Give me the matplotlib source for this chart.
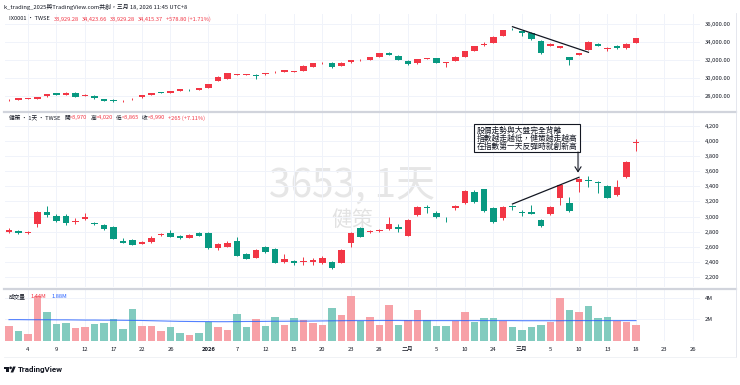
import matplotlib
matplotlib.use('Agg')
import matplotlib.pyplot as plt
from matplotlib.patches import Rectangle, Polygon, Circle
import numpy as np

W, H = 740, 385
plt.rcParams['font.family'] = ['Noto Sans CJK TC', 'DejaVu Sans']

# ---------------- data ----------------
days = ['12-02','12-03','12-04','12-05','12-08','12-09','12-10','12-11','12-12','12-15',
        '12-16','12-17','12-18','12-19','12-22','12-23','12-24','12-26','12-29','12-30','12-31',
        '01-02','01-05','01-06','01-07','01-08','01-09','01-12','01-13','01-14','01-15',
        '01-16','01-19','01-20','01-21','01-22','01-23','01-26','01-27','01-28','01-29','01-30',
        '02-02','02-03','02-04','02-05','02-06','02-09','02-10','02-11','02-23','02-24','02-25','02-26',
        '03-02','03-03','03-04','03-05','03-06','03-09','03-10','03-11','03-12','03-13','03-16','03-17','03-18']
future_days = ['03-19','03-20','03-23','03-24','03-25','03-26','03-27']

tick_days = ['12-04','12-09','12-12','12-17','12-22','12-26','01-02','01-07','01-12','01-15','01-20',
             '01-23','01-28','02-02','02-05','02-10','02-24','03-02','03-05','03-10','03-13','03-18',
             '03-23','03-26']
tick_labels = ['4','9','12','17','22','26','2026','7','12','15','20','23','28','二月','5','10','24',
               '三月','5','10','13','18','23','26']

idx_name = 'IX0001 · TWSE'
idx_open = [27580,27600,27780,27745,28010,28340,28190,28400,28050,28070,
            27700,27650,27480,27700,27900,28190,28420,28410,28600,28720,
            28700,28960,29740,29900,30430,30400,30360,30440,30680,30700,
            30700,30810,31280,31650,31720,31360,31770,32000,32020,32390,
            32790,32500,31940,31660,32130,32200,31720,31950,32390,33050,
            33650,33940,34710,35460,35220,35040,34150,33570,33390,32320,
            32610,33130,33790,33210,33560,33320,33929.28]
idx_high = [27680,27830,27850,27960,28290,28400,28440,28450,28260,28120,
            27740,27700,27560,27780,28180,28380,28480,28630,28850,28800,
            28960,29370,30200,30600,30520,30470,30420,30590,30780,30950,
            30850,31420,31700,31800,31760,31760,32030,32080,32350,32800,
            32900,32550,31980,32160,32250,32240,31780,32420,33050,33610,
            34040,34640,35380,35600,35280,35100,34190,33920,33620,32360,
            32800,34080,33950,33420,33700,33950,34423.66]
idx_low = [27520,27560,27720,27700,27980,28120,28150,27940,28000,27720,
           27450,27420,27420,27650,27860,28150,28330,28380,28570,28640,
           28670,28930,29700,29870,30380,30340,29920,30410,30620,30670,
           30660,30780,31250,31560,31180,31330,31740,31960,31990,32360,
           32550,31990,31520,31620,32090,31690,31280,31920,32360,33020,
           33610,33910,34680,35380,34670,34280,32730,33540,33350,31470,
           32580,33100,33540,33000,33290,33290,33929.28]
idx_close = [27610,27790,27800,27930,28265,28160,28410,27970,28200,27800,
             27500,27460,27500,27720,28150,28340,28400,28600,28810,28700,
             28930,29340,30110,30550,30450,30410,30260,30550,30700,30910,
             30800,31390,31650,31700,31220,31720,31990,32030,32320,32760,
             32580,32020,31580,32130,32210,31730,31730,32390,33010,33570,
             33790,34600,35330,35440,35040,34310,32760,33760,33560,32020,
             32760,34040,33570,33380,33320,33836.57,34415.37]

stk_name = '健策 · 1天 · TWSE'
stk_open = [2798,2811,2785,2900,3058,3009,3009,2930,2969,2921,
            2890,2860,2683,2692,2644,2666,2755,2789,2749,2723,
            2781,2789,2583,2604,2683,2508,2459,2596,2570,2398,
            2415,2400,2398,2385,2406,2393,2657,2847,2798,2815,
            2837,2860,2749,3022,3128,3053,2985,3119,3184,3329,
            3361,3118,2987,3135,3055,3058,2956,3035,3250,3176,
            3453,3478,3457,3405,3286,3519,3970]
stk_high = [2845,2830,2815,3070,3141,3030,3030,2978,3051,2935,
            2905,2870,2720,2705,2680,2745,2790,2830,2760,2770,
            2795,2800,2650,2680,2730,2520,2570,2610,2580,2504,
            2425,2470,2450,2475,2420,2575,2800,2860,2830,2840,
            2990,2900,2965,3140,3158,3070,3000,3160,3355,3345,
            3370,3125,3135,3158,3090,3160,2965,3140,3420,3265,
            3505,3530,3470,3415,3480,3735,4020]
stk_low = [2780,2770,2765,2868,3000,2930,2890,2900,2950,2890,
           2820,2700,2650,2620,2635,2655,2745,2725,2710,2715,
           2740,2575,2560,2595,2475,2440,2450,2525,2385,2390,
           2356,2356,2356,2375,2310,2385,2604,2725,2780,2800,
           2830,2800,2740,3005,3050,2985,2930,3090,3170,3185,
           3065,2920,2960,3090,3015,3030,2865,3025,3150,3065,
           3330,3390,3310,3240,3275,3510,3865]
stk_close = [2824,2785,2790,3058,3018,2947,2913,2936,2999,2903,
             2837,2706,2657,2630,2670,2715,2768,2736,2723,2762,
             2749,2583,2636,2649,2485,2446,2560,2534,2393,2446,
             2393,2408,2429,2455,2327,2560,2789,2736,2805,2826,
             2899,2842,2956,3132,3120,2996,2981,3141,3343,3198,
             3079,2934,3124,3130,3051,3035,2877,3132,3414,3075,
             3493,3472,3440,3250,3396,3725,3990]

volume_m = [1.42,0.96,0.68,4.18,2.71,1.54,1.70,1.23,1.33,1.54,
            1.67,2.07,1.14,2.96,1.42,1.42,0.93,1.30,0.71,0.59,
            0.71,1.79,1.26,0.99,2.53,1.30,2.07,1.39,2.22,1.51,
            2.13,1.97,1.67,1.45,3.05,2.37,4.18,1.82,2.22,1.45,
            3.35,1.45,1.97,2.89,1.97,1.39,1.39,1.88,2.68,1.76,
            2.16,2.16,1.82,1.30,1.02,1.30,1.45,1.79,4.00,2.83,
            2.71,3.20,2.13,2.25,1.82,1.76,1.44]
volume_ma_m = [1.97,1.97,1.96,1.96,1.96,1.95,1.95,1.94,1.93,1.93,
               1.92,1.92,1.91,1.90,1.89,1.87,1.85,1.83,1.81,1.80,
               1.79,1.79,1.78,1.78,1.79,1.80,1.80,1.81,1.82,1.82,
               1.83,1.83,1.84,1.85,1.86,1.87,1.88,1.88,1.88,1.89,
               1.89,1.89,1.88,1.88,1.88,1.88,1.88,1.88,1.88,1.88,
               1.88,1.88,1.88,1.88,1.87,1.87,1.87,1.87,1.87,1.88,
               1.88,1.88,1.88,1.88,1.88,1.88,1.88]

idx_yticks = [28000, 30000, 32000, 34000, 36000]
stk_yticks = [2200, 2400, 2600, 2800, 3000, 3200, 3400, 3600, 3800, 4000, 4200]
vol_yticks = [2, 4]

note_lines = ['股價走勢與大盤完全背離', '指數越走越低，健策越走越高', '在指數第一天反彈時就創新高']
header_text = 'k_trading_2025與TradingView.com共創，三月 18, 2026 11:45 UTC+8'

# ---------------- style ----------------
UP, DN = '#F23645', '#089981'
UPV, DNV = '#F7A1A7', '#82CBBF'
TXT = '#131722'
GRID = '#F0F3FA'
BLUE = '#2962FF'

fig = plt.figure(figsize=(W/100, H/100), dpi=100)
fig.patch.set_facecolor('white')

def px_rect(top, bottom, left=5, right=700):
    return [left/W, 1-bottom/H, (right-left)/W, (bottom-top)/H]

ax1 = fig.add_axes(px_rect(14, 111))
ax2 = fig.add_axes(px_rect(113, 287))
ax3 = fig.add_axes(px_rect(290, 341))
ov = fig.add_axes([0, 0, 1, 1], zorder=10)
ov.set_xlim(0, W); ov.set_ylim(H, 0); ov.axis('off'); ov.patch.set_alpha(0)

all_days = days + future_days
tick_pos = [all_days.index(d) for d in tick_days]
x = np.arange(len(days))

def candles(ax, o, h, l, c, minh):
    o, h, l, c = map(np.asarray, (o, h, l, c))
    up = c >= o
    col = np.where(up, UP, DN)
    ax.vlines(x, l, h, colors=col, lw=0.7, zorder=2)
    body = np.abs(c - o)
    height = np.maximum(body, minh)
    bottom = np.minimum(o, c) - (height - body) / 2
    ax.bar(x, height, 0.7, bottom=bottom, color=col, lw=0, zorder=3)
    return up

for ax in (ax1, ax2, ax3):
    ax.set_xlim(-0.42, 72.74)
    for s in ax.spines.values():
        s.set_visible(False)
    ax.set_axisbelow(True)
    ax.grid(True, color=GRID, lw=0.7)
    ax.set_xticks(tick_pos)
    ax.yaxis.tick_right()
    ax.tick_params(axis='y', length=0, pad=3.6, labelsize=4.2, labelcolor=TXT)
    ax.tick_params(axis='x', length=0, labelbottom=False)

candles(ax1, idx_open, idx_high, idx_low, idx_close, 80)
ax1.set_ylim(26386, 37105)
ax1.set_yticks(idx_yticks)
ax1.set_yticklabels([f'{v:,.2f}' for v in idx_yticks])
ax1.plot([53, 61], [35702, 32873], color='#131722', lw=0.9, zorder=4)

up_stk = candles(ax2, stk_open, stk_high, stk_low, stk_close, 9)
ax2.set_ylim(2072, 4367)
ax2.set_yticks(stk_yticks)
ax2.set_yticklabels([f'{v:,}' for v in stk_yticks])
ax2.plot([53, 60], [3167, 3519], color='#131722', lw=0.9, zorder=4)

# watermark
ax2.text(352, 187, '3653, 1天', transform=ov.transData, ha='center', va='center',
         fontsize=28, color='#E6E6E6', zorder=0.3)
ax2.text(352, 220, '健策', transform=ov.transData, ha='center', va='center',
         fontsize=15, color='#E2E2E2', zorder=0.3)

# annotation box + arrow
ax2.add_patch(Rectangle((48.9, 3853), 11.2, 369, facecolor='white', edgecolor='#131722',
                        lw=0.8, zorder=6))
for line, yv in zip(note_lines, [4132, 4025, 3918]):
    ax2.text(49.25, yv, line, fontsize=5.6, color='#131722', va='center', ha='left', zorder=7)
ax2.annotate('', xy=(59.9, 3580), xytext=(59.9, 3853),
             arrowprops=dict(arrowstyle='->,head_length=0.35,head_width=0.22', color='#131722',
                             lw=0.8, shrinkA=0, shrinkB=0), zorder=7)

vcol = np.where(up_stk, UPV, DNV)
ax3.bar(x, volume_m, 0.8, color=vcol, lw=0, zorder=2)
ax3.plot(x, volume_ma_m, color=BLUE, lw=0.8, alpha=0.8, zorder=3)
ax3.set_ylim(0, 4.70)
ax3.set_yticks(vol_yticks)
ax3.set_yticklabels([f'{v}M' for v in vol_yticks])
ax3.tick_params(axis='x', labelbottom=True, labelsize=4.2, labelcolor=TXT, pad=4.5)
ax3.set_xticklabels(tick_labels)
for t in ax3.get_xticklabels():
    if t.get_text() == '2026':
        t.set_fontweight('bold')

# separators / frame
ov.plot([4, 736], [112, 112], color='#D1D4DC', lw=1.6)
ov.plot([4, 736], [288.5, 288.5], color='#D1D4DC', lw=1.6)
ov.plot([736, 736], [13, 357], color='#E0E3EB', lw=0.6)
ov.plot([4, 736], [357, 357], color='#EEF0F4', lw=0.6)

# headers
renderer = fig.canvas.get_renderer()
def segs(x0, y0, parts, size=4.1):
    xx = x0
    for s, c, gap in parts:
        t = ov.text(xx, y0, s, color=c, fontsize=size, va='center', ha='left')
        xx += t.get_window_extent(renderer).width + gap

segs(4, 7, [(header_text, TXT, 0)], size=4.2)

ich = idx_close[-1] - idx_close[-2]
segs(9, 19, [(idx_name, TXT, 4),
             (f'{idx_open[-1]:,.2f}', UP, 3), (f'{idx_high[-1]:,.2f}', UP, 3),
             (f'{idx_low[-1]:,.2f}', UP, 3), (f'{idx_close[-1]:,.2f}', UP, 3),
             (f'{ich:+,.2f} ({ich/idx_close[-2]*100:+.2f}%)', UP, 0)])

sch = stk_close[-1] - stk_close[-2]
segs(9, 118, [(stk_name, TXT, 4),
              ('開', TXT, 0), (f'={stk_open[-1]:,}', UP, 3),
              ('高', TXT, 0), (f'={stk_high[-1]:,}', UP, 3),
              ('低', TXT, 0), (f'={stk_low[-1]:,}', UP, 3),
              ('收', TXT, 0), (f'={stk_close[-1]:,}', UP, 3),
              (f'{sch:+,} ({sch/stk_close[-2]*100:+.2f}%)', UP, 0)])

segs(9, 296, [('成交量', TXT, 5), (f'{volume_m[-1]:.2f}M', UP, 5),
              (f'{volume_ma_m[-1]:.2f}M', BLUE, 0)])

# TradingView logo
s = 0.33
ox, oy = 4, 365.2
def P(pts):
    return [(ox + px*s, oy + py*s) for px, py in pts]
ov.add_patch(Polygon(P([(0,4),(14,4),(14,22),(7,22),(7,11),(0,11)]), closed=True,
                     facecolor='#131722', lw=0))
ov.add_patch(Circle((ox + 20*s, oy + 8*s), 4*s, facecolor='#131722', lw=0))
ov.add_patch(Polygon(P([(20,22),(27.5,4),(35.5,4),(28,22)]), closed=True,
                     facecolor='#131722', lw=0))
ov.text(17.5, 369.5, 'TradingView', fontsize=5.8, fontweight='bold', color='#131722',
        va='center', ha='left', family=['Roboto', 'DejaVu Sans'])

fig.savefig('out.png', dpi=100, facecolor='white')
